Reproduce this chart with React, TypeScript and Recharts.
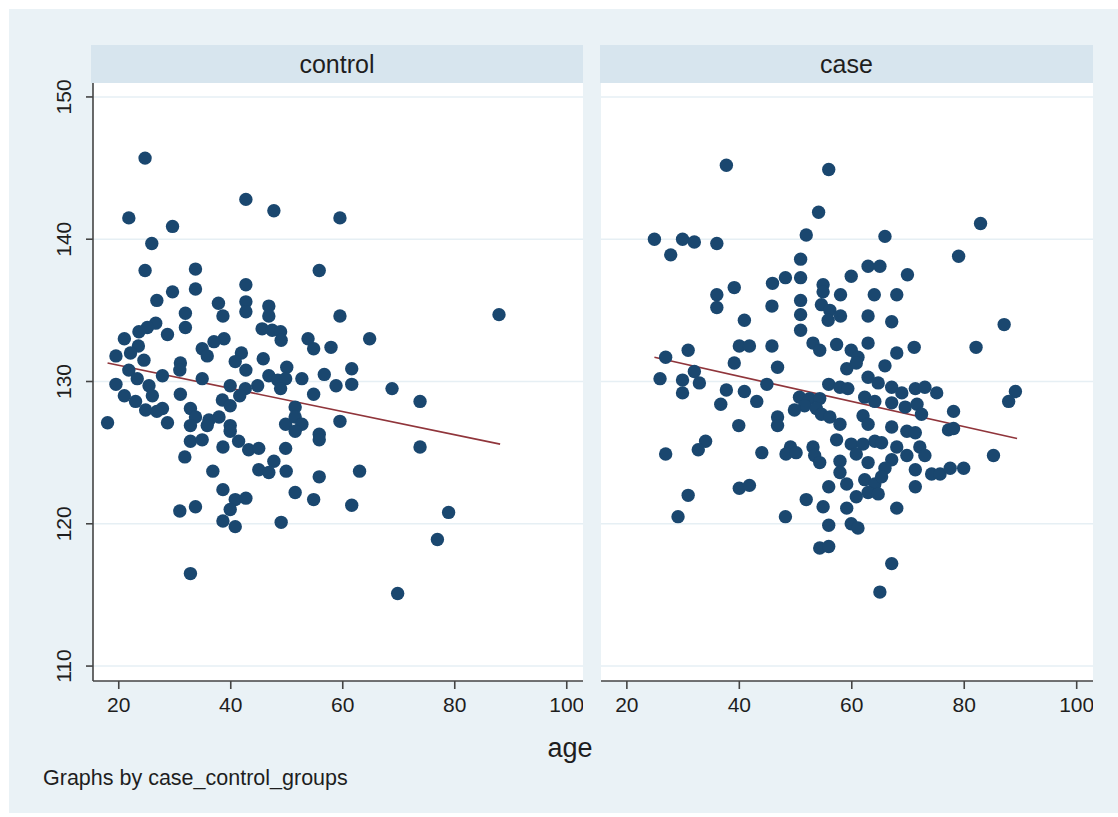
import { ScatterChart, Scatter, XAxis, YAxis, ReferenceLine } from 'recharts';

// age, value pairs
const controlPoints: [number, number][] = [
  [24.7, 145.7], [21.8, 141.5], [29.6, 140.9], [42.7, 142.8], [47.7, 142.0], [59.5, 141.5], [25.9, 139.7],
  [24.7, 137.8], [33.7, 137.9], [55.8, 137.8], [33.7, 136.5], [42.7, 136.8], [29.6, 136.3], [26.8, 135.7],
  [37.8, 135.5], [42.7, 135.6], [42.7, 134.9], [46.8, 135.3], [31.9, 134.8], [38.6, 134.6], [46.8, 134.6],
  [59.5, 134.6], [31.9, 133.8], [26.6, 134.1], [25.1, 133.8], [23.6, 133.5], [21.0, 133.0], [28.7, 133.3],
  [23.5, 132.5], [19.5, 131.8], [22.1, 132.0], [24.5, 131.5], [45.6, 133.7], [47.4, 133.6], [48.9, 133.5],
  [49.0, 132.9], [38.8, 133.0], [37.0, 132.8], [34.9, 132.3], [35.8, 131.8], [41.9, 132.0], [40.8, 131.4],
  [42.7, 130.8], [45.8, 131.6], [53.8, 133.0], [54.8, 132.3], [57.9, 132.4], [31.0, 131.3], [30.9, 130.8],
  [21.8, 130.8], [23.3, 130.2], [27.8, 130.4], [19.5, 129.8], [25.4, 129.7], [21.0, 129.0], [23.0, 128.6],
  [26.0, 129.0], [24.8, 128.0], [27.8, 128.1], [28.7, 127.1], [18.0, 127.1], [26.8, 127.9], [34.9, 130.2],
  [31.0, 129.1], [39.9, 129.7], [42.6, 129.5], [44.8, 129.7], [46.8, 130.4], [48.4, 130.1], [50.0, 131.0],
  [49.8, 130.2], [48.9, 129.5], [52.7, 130.2], [56.7, 130.5], [58.8, 129.7], [54.8, 129.1], [41.6, 129.0],
  [38.5, 128.7], [39.9, 128.3], [51.5, 128.2], [32.8, 128.1], [33.7, 127.5], [32.8, 126.9], [36.1, 127.3],
  [37.9, 127.5], [39.9, 126.9], [35.8, 126.9], [49.8, 127.0], [51.5, 127.5], [52.7, 127.0], [51.5, 126.5],
  [59.5, 127.2], [39.9, 126.5], [32.8, 125.8], [34.9, 125.9], [38.6, 125.4], [41.4, 125.8], [43.2, 125.2],
  [45.0, 125.3], [31.8, 124.7], [49.8, 125.3], [55.8, 126.3], [55.8, 125.9], [47.7, 124.4], [45.0, 123.8],
  [46.8, 123.6], [49.9, 123.7], [36.8, 123.7], [55.8, 123.3], [38.6, 122.4], [51.5, 122.2], [54.8, 121.7],
  [40.8, 121.7], [42.7, 121.8], [39.9, 121.0], [30.9, 120.9], [33.7, 121.2], [38.6, 120.2], [40.8, 119.8],
  [49.0, 120.1], [32.8, 116.5], [64.8, 133.0], [61.6, 130.9], [61.6, 129.8], [68.8, 129.5], [73.8, 128.6],
  [73.8, 125.4], [63.0, 123.7], [61.6, 121.3], [78.9, 120.8], [76.9, 118.9], [69.8, 115.1], [87.9, 134.7],
];

const casePoints: [number, number][] = [
  [37.7, 145.2], [55.9, 144.9], [54.1, 141.9], [24.9, 140.0], [29.9, 140.0], [32.0, 139.8], [27.8, 138.9],
  [36.0, 139.7], [51.9, 140.3], [50.9, 138.6], [50.9, 137.3], [48.2, 137.3], [45.9, 136.9], [39.1, 136.6],
  [36.0, 136.1], [36.0, 135.2], [45.8, 135.3], [50.9, 135.7], [50.9, 134.7], [50.9, 133.6], [54.9, 136.8],
  [54.9, 136.3], [54.6, 135.4], [56.1, 135.0], [55.8, 134.3], [40.9, 134.3], [40.0, 132.5], [41.8, 132.5],
  [45.8, 132.5], [53.1, 132.7], [54.3, 132.2], [30.9, 132.2], [26.9, 131.7], [39.1, 131.3], [46.8, 131.0],
  [25.9, 130.2], [29.9, 130.1], [32.0, 130.7], [32.9, 129.9], [29.9, 129.2], [37.7, 129.4], [36.7, 128.4],
  [40.9, 129.3], [43.1, 128.6], [44.9, 129.8], [55.9, 129.8], [50.7, 128.9], [52.5, 128.8], [54.3, 128.8],
  [51.6, 128.3], [49.8, 128.0], [53.7, 128.1], [54.6, 127.7], [56.1, 127.5], [46.8, 127.5], [46.8, 126.9],
  [39.9, 126.9], [34.0, 125.8], [32.7, 125.2], [26.9, 124.9], [44.0, 125.0], [49.1, 125.4], [48.3, 124.9],
  [50.1, 125.0], [53.1, 125.4], [53.4, 124.8], [54.3, 124.3], [40.0, 122.5], [41.8, 122.7], [30.9, 122.0],
  [51.9, 121.7], [54.9, 121.2], [55.9, 122.6], [29.1, 120.5], [48.2, 120.5], [55.9, 119.9], [54.3, 118.3],
  [55.9, 118.4], [65.9, 140.2], [82.9, 141.1], [79.0, 138.8], [62.9, 138.1], [65.0, 138.1], [59.9, 137.4],
  [69.9, 137.5], [58.0, 136.1], [64.0, 136.1], [68.0, 136.1], [58.0, 134.6], [62.9, 134.6], [67.1, 134.2],
  [87.1, 134.0], [57.3, 132.6], [59.9, 132.2], [61.1, 131.7], [62.9, 132.7], [68.0, 132.0], [71.1, 132.4],
  [82.1, 132.4], [59.1, 130.9], [60.8, 131.3], [65.9, 131.1], [57.9, 129.6], [59.3, 129.5], [62.9, 130.3],
  [64.7, 129.9], [67.1, 129.6], [68.9, 129.2], [71.3, 129.5], [73.0, 129.6], [75.1, 129.2], [62.3, 128.9],
  [64.1, 128.6], [67.1, 128.5], [69.5, 128.2], [71.6, 128.4], [72.4, 127.7], [78.1, 127.9], [89.1, 129.3],
  [87.9, 128.6], [57.9, 127.0], [62.0, 127.6], [62.9, 127.0], [67.1, 126.8], [69.8, 126.5], [71.3, 126.4],
  [77.2, 126.6], [78.1, 126.7], [57.3, 125.9], [59.9, 125.6], [62.0, 125.6], [64.1, 125.8], [65.3, 125.7],
  [68.0, 125.4], [72.1, 125.4], [73.0, 124.8], [60.8, 124.9], [69.8, 124.8], [85.2, 124.8], [57.9, 124.4],
  [62.9, 124.3], [67.1, 124.5], [65.9, 123.9], [71.3, 123.8], [74.2, 123.5], [75.7, 123.5], [77.5, 123.9],
  [79.9, 123.9], [57.9, 123.6], [59.1, 122.8], [62.3, 123.1], [64.1, 122.8], [65.3, 123.3], [71.3, 122.6],
  [60.8, 121.9], [62.9, 122.2], [64.7, 122.1], [59.1, 121.1], [68.0, 121.1], [59.9, 120.0], [61.1, 119.7],
  [67.1, 117.2], [65.0, 115.2],
];

// fitted line end points
const controlFit = [{ x: 18.0, y: 131.3 }, { x: 88.1, y: 125.6 }];
const caseFit = [{ x: 24.9, y: 131.7 }, { x: 89.4, y: 126.0 }];

const xTicks = [20, 40, 60, 80, 100];
const yTicks = [110, 120, 130, 140, 150];
const xDomain: [number, number] = [15.4, 102.9];
const yDomain: [number, number] = [108.95, 150.98];

const FONT = '"Liberation Sans", Arial, Helvetica, sans-serif';
const NAVY = '#1a476f';
const MAROON = '#90353b';
const AXIS = '#444';
const TEXT = '#1e1e1e';

const toRows = (pts: [number, number][]) => pts.map(([age, v]) => ({ age, v }));

const Dot = (props: any) => <circle cx={props.cx} cy={props.cy} r={6.7} fill={NAVY} />;

const YTick = (props: any) => {
  const { x, y, payload } = props;
  const cx = x - 22;
  return (
    <text x={cx} y={y} transform={`rotate(-90 ${cx} ${y})`} textAnchor="middle" dominantBaseline="central"
      fontSize={21} fill={TEXT} fontFamily={FONT}>
      {payload.value}
    </text>
  );
};

const Panel = ({ points, fit, showY, width }: { points: [number, number][]; fit: { x: number; y: number }[]; showY: boolean; width: number }) => (
  <ScatterChart width={width} height={720} margin={{ top: 83, right: 0, bottom: 9, left: 0 }}>
    <XAxis type="number" dataKey="age" domain={xDomain} ticks={xTicks} allowDataOverflow
      tickSize={8} tickMargin={8} height={30} stroke={AXIS} strokeWidth={1.6}
      tick={{ fontSize: 21, fill: TEXT, fontFamily: FONT }} />
    <YAxis type="number" dataKey="v" domain={yDomain} ticks={yTicks} allowDataOverflow hide={!showY}
      width={93} tickSize={7} tickMargin={0} stroke={AXIS} strokeWidth={1.6} tick={<YTick />} />
    {yTicks.map((t) => (
      <ReferenceLine key={t} y={t} stroke="#e6eff4" strokeWidth={1.5} />
    ))}
    <Scatter data={toRows(points)} shape={<Dot />} isAnimationActive={false} />
    <ReferenceLine segment={fit} stroke={MAROON} strokeWidth={1.6} />
  </ScatterChart>
);

const headerStyle: React.CSSProperties = {
  position: 'absolute', top: 45, height: 38, background: '#d7e5ee', color: TEXT,
  fontFamily: FONT, fontSize: 25, display: 'flex', alignItems: 'center', justifyContent: 'center',
};

export default function App() {
  return (
    <div style={{ position: 'absolute', left: 0, top: 0, width: 1118, height: 817, background: '#fff', overflow: 'hidden' }}>
      <div style={{ position: 'absolute', left: 9, top: 9, right: 0, bottom: 4, background: '#eaf2f6' }} />
      <div style={{ ...headerStyle, left: 91, width: 492 }}>control</div>
      <div style={{ ...headerStyle, left: 600, width: 493 }}>case</div>
      <div style={{ position: 'absolute', left: 93, top: 83, width: 490, height: 598, background: '#fff' }} />
      <div style={{ position: 'absolute', left: 601, top: 83, width: 492, height: 598, background: '#fff' }} />
      <div style={{ position: 'absolute', left: 0, top: 0 }}>
        <Panel points={controlPoints} fit={controlFit} showY width={583} />
      </div>
      <div style={{ position: 'absolute', left: 601, top: 0 }}>
        <Panel points={casePoints} fit={caseFit} showY={false} width={492} />
      </div>
      <div style={{ position: 'absolute', left: 570, top: 748, transform: 'translate(-50%, -50%)', fontFamily: FONT, fontSize: 27, color: TEXT }}>
        age
      </div>
      <div style={{ position: 'absolute', left: 43, top: 778, transform: 'translateY(-50%)', fontFamily: FONT, fontSize: 21.5, color: TEXT }}>
        Graphs by case_control_groups
      </div>
    </div>
  );
}
